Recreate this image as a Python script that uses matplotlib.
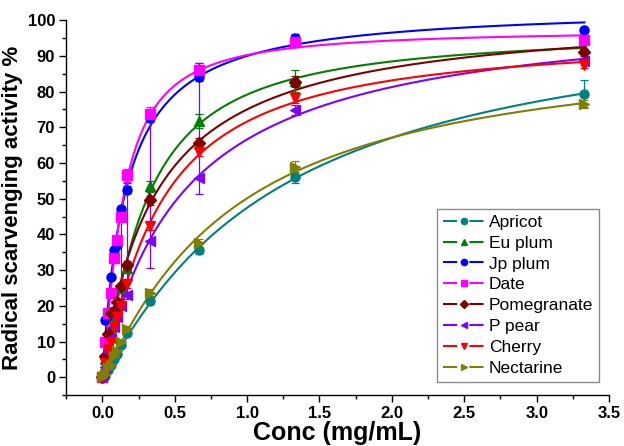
import numpy as np
import matplotlib
matplotlib.use("Agg")
import matplotlib.pyplot as plt
from matplotlib.ticker import MultipleLocator, FormatStrFormatter

# Concentrations (mg/mL)
conc = [0, 0.02, 0.04, 0.06, 0.08, 0.10, 0.13, 0.17, 0.33, 0.67, 1.33, 3.33]

# Radical scavenging activity (%) for each fruit extract
apricot     = [0, 0.5, 2.0, 3.5, 5.0, 6.5, 9.0, 12.5, 21.3, 35.6, 56.0, 79.4]
eu_plum     = [0, 5.0, 10.0, 14.0, 17.0, 20.0, 25.0, 30.5, 53.5, 71.7, 83.0, 92.3]
jp_plum     = [0, 16.0, 18.0, 28.0, 35.5, 37.0, 47.0, 52.5, 72.5, 84.0, 95.0, 97.3]
date        = [0, 10.0, 18.0, 23.5, 33.5, 38.5, 45.0, 56.5, 73.7, 86.0, 93.8, 94.3]
pomegranate = [0, 6.0, 12.0, 18.0, 18.5, 21.0, 25.5, 31.5, 49.5, 65.5, 82.8, 91.0]
p_pear      = [0, 3.0, 7.0, 11.0, 14.0, 17.0, 20.0, 23.0, 38.2, 55.8, 74.8, 88.5]
cherry      = [0, 4.0, 8.0, 10.0, 14.0, 17.0, 20.0, 26.0, 42.3, 63.2, 78.2, 87.5]
nectarine   = [0, 1.0, 2.5, 3.5, 6.0, 7.5, 10.0, 13.5, 23.7, 37.6, 59.0, 76.5]

# Standard deviations (lower, upper)
apricot_err     = [0, 0, 0, 0, 0, 0, 0, 0.8, 0.8, 1.0, 1.5, 3.7]
eu_plum_err     = [0, 0, 0, 0, 0, 0, 0, 1.0, 1.5, 2.0, 3.0, 1.0]
jp_plum_err     = [0, 0, 0, 0, 0, 0, 0, 1.0, 1.0, 1.0, 1.0, 0.5]
date_err        = [0, 0, 0, 0, 0, 0, 1.0, 1.8, 2.0, 2.0, 1.0, 0.8]
pomegranate_err = [0, 0, 0, 0, 0, 0, 0, 1.0, 1.2, 1.5, 1.5, 1.0]
p_pear_err_lo   = [0, 0, 0, 0, 0, 0, 0, 1.0, 7.5, 4.4, 1.5, 1.0]
p_pear_err_hi   = [0, 0, 0, 0, 0, 0, 25.0, 31.5, 36.8, 32.2, 1.5, 1.0]
cherry_err      = [0, 0, 0, 0, 0, 0, 0, 1.0, 1.0, 1.2, 1.5, 1.0]
nectarine_err   = [0, 0, 0, 0, 0, 0, 0, 0.8, 1.0, 1.0, 1.5, 1.0]

labels = ["Apricot", "Eu plum", "Jp plum", "Date", "Pomegranate",
          "P pear", "Cherry", "Nectarine"]
colors = ["#008080", "#008000", "#0000ff", "#ff00ff", "#800000",
          "#8000ff", "#ff0000", "#808000"]
markers = ["o", "^", "o", "s", "D", "<", "v", ">"]
values = [apricot, eu_plum, jp_plum, date, pomegranate, p_pear, cherry, nectarine]
errors = [
    apricot_err, eu_plum_err, jp_plum_err, date_err, pomegranate_err,
    [p_pear_err_lo, p_pear_err_hi], cherry_err, nectarine_err,
]


def fit_hill(x, y):
    """Least-squares fit of y = a * x^n / (b^n + x^n) by grid search."""
    x = np.asarray(x, float)
    y = np.asarray(y, float)
    best = None
    for n in np.linspace(0.6, 2.5, 60):
        for b in np.logspace(-2, 1.3, 300):
            xn = x ** n
            f = xn / (b ** n + xn)
            a = f @ y / (f @ f)
            sse = np.sum((a * f - y) ** 2)
            if best is None or sse < best[0]:
                best = (sse, a, b, n)
    _, a, b, n = best
    return lambda t: a * t ** n / (b ** n + t ** n)


plt.rcParams["font.family"] = ["Liberation Sans", "DejaVu Sans"]
plt.rcParams["font.weight"] = "bold"
plt.rcParams["lines.scale_dashes"] = False

fig = plt.figure(figsize=(6.24, 4.46), dpi=100)
ax = fig.add_axes([0.106, 0.114, 0.87, 0.841])

xs = np.linspace(0, max(conc), 400)
x_arr = np.asarray(conc)
for lab, col, mk, y, err in zip(labels, colors, markers, values, errors):
    model = fit_hill(conc, y)
    ax.plot(xs, model(xs), color=col, lw=1.5, zorder=2)
    ax.errorbar(x_arr, y, yerr=err, fmt="none", ecolor=col, elinewidth=0.9,
                capsize=3, capthick=0.9, zorder=3)
    ax.plot(x_arr, y, linestyle="none", marker=mk, color=col, ms=6.5,
            zorder=4)
    # legend proxy: broken line with the marker in the gap
    ax.plot([], [], color=col, marker=mk, ms=4.5, lw=1.5,
            linestyle=(0, (10.2, 8.8)), label=lab)

ax.set_xlim(-0.25, 3.5)
ax.set_ylim(-5, 100)
ax.set_xticks(np.arange(0, 3.51, 0.5))
ax.set_yticks(np.arange(0, 101, 10))
ax.xaxis.set_minor_locator(MultipleLocator(0.25))
ax.yaxis.set_minor_locator(MultipleLocator(5))
ax.xaxis.set_major_formatter(FormatStrFormatter("%.1f"))

for s in ["top", "right"]:
    ax.spines[s].set_visible(False)
for s in ["left", "bottom"]:
    ax.spines[s].set_linewidth(1.0)
ax.tick_params(which="major", direction="out", length=5, width=1,
               labelsize=12, pad=3)
ax.tick_params(which="minor", direction="out", length=3, width=1)
for t in ax.get_xticklabels() + ax.get_yticklabels():
    t.set_fontweight("bold")

ax.set_xlabel("Conc (mg/mL)", fontsize=18, fontweight="bold", labelpad=0)
ax.set_ylabel("Radical scarvenging activity %", fontsize=16,
              fontweight="bold", labelpad=3)

leg = ax.legend(loc="lower right", bbox_to_anchor=(0.982, 0.035),
                fontsize=12.5, frameon=True, fancybox=False,
                handlelength=2.36, borderpad=0.35, labelspacing=0.33,
                handletextpad=0.25, borderaxespad=0.0)
leg.get_frame().set_edgecolor("#707070")
leg.get_frame().set_linewidth(1.0)
for t in leg.get_texts():
    t.set_fontweight("normal")

fig.savefig("out.png", dpi=100)
